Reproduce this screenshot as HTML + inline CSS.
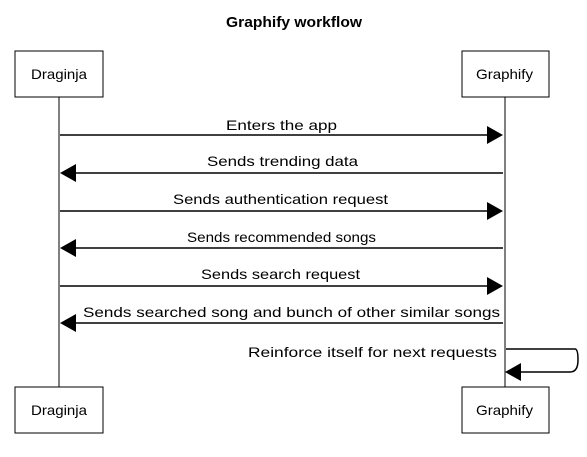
<!DOCTYPE html>
<html><head><meta charset="utf-8"><style>
html,body{margin:0;padding:0;background:#fff;}
svg{display:block;}
text{font-family:"Liberation Sans",sans-serif;fill:#000;}
</style></head><body>
<svg width="587" height="457" viewBox="0 0 587 457" xmlns="http://www.w3.org/2000/svg">
<rect width="587" height="457" fill="#fff"/>
<text x="226" y="27" font-size="15" font-weight="bold" textLength="136" lengthAdjust="spacingAndGlyphs">Graphify workflow</text>
<g fill="none" stroke="#000" stroke-width="1">
<rect x="15" y="51" width="88" height="46"/>
<rect x="462" y="51" width="87" height="46"/>
<rect x="15" y="387" width="88" height="46"/>
<rect x="462" y="387" width="87" height="46"/>
<line x1="59" y1="97" x2="59" y2="387"/>
<line x1="505" y1="97" x2="505" y2="387"/>
</g>
<g font-size="14">
<text x="31" y="79" textLength="56" lengthAdjust="spacingAndGlyphs">Draginja</text>
<text x="476" y="79" textLength="57" lengthAdjust="spacingAndGlyphs">Graphify</text>
<text x="31" y="415" textLength="56" lengthAdjust="spacingAndGlyphs">Draginja</text>
<text x="476" y="415" textLength="57" lengthAdjust="spacingAndGlyphs">Graphify</text>
<text x="226" y="130" textLength="111" lengthAdjust="spacingAndGlyphs">Enters the app</text>
<text x="207" y="166" textLength="151" lengthAdjust="spacingAndGlyphs">Sends trending data</text>
<text x="173" y="204" textLength="215" lengthAdjust="spacingAndGlyphs">Sends authentication request</text>
<text x="187" y="242" textLength="189" lengthAdjust="spacingAndGlyphs">Sends recommended songs</text>
<text x="201" y="279" textLength="159" lengthAdjust="spacingAndGlyphs">Sends search request</text>
<text x="83" y="317" textLength="417" lengthAdjust="spacingAndGlyphs">Sends searched song and bunch of other similar songs</text>
<text x="248" y="357" textLength="249" lengthAdjust="spacingAndGlyphs">Reinforce itself for next requests</text>
</g>
<g stroke="#000" stroke-width="1.5" fill="none">
<line x1="60" y1="135" x2="490" y2="135"/>
<line x1="75" y1="173" x2="503" y2="173"/>
<line x1="60" y1="211" x2="490" y2="211"/>
<line x1="75" y1="248" x2="503" y2="248"/>
<line x1="60" y1="286" x2="490" y2="286"/>
<line x1="75" y1="323" x2="503" y2="323"/>
<path d="M506 349 L575 349 Q578 349 578 360 Q578 372 570 372 L520 372"/>
</g>
<g fill="#000">
<path d="M503 135 L487 126 L487 144 Z"/>
<path d="M60 173 L76 164 L76 182 Z"/>
<path d="M503 211 L487 202 L487 220 Z"/>
<path d="M60 248 L76 239 L76 257 Z"/>
<path d="M503 286 L487 277 L487 295 Z"/>
<path d="M60 323 L76 314 L76 332 Z"/>
<path d="M505 372 L521 363 L521 381 Z"/>
</g>
</svg>
</body></html>
